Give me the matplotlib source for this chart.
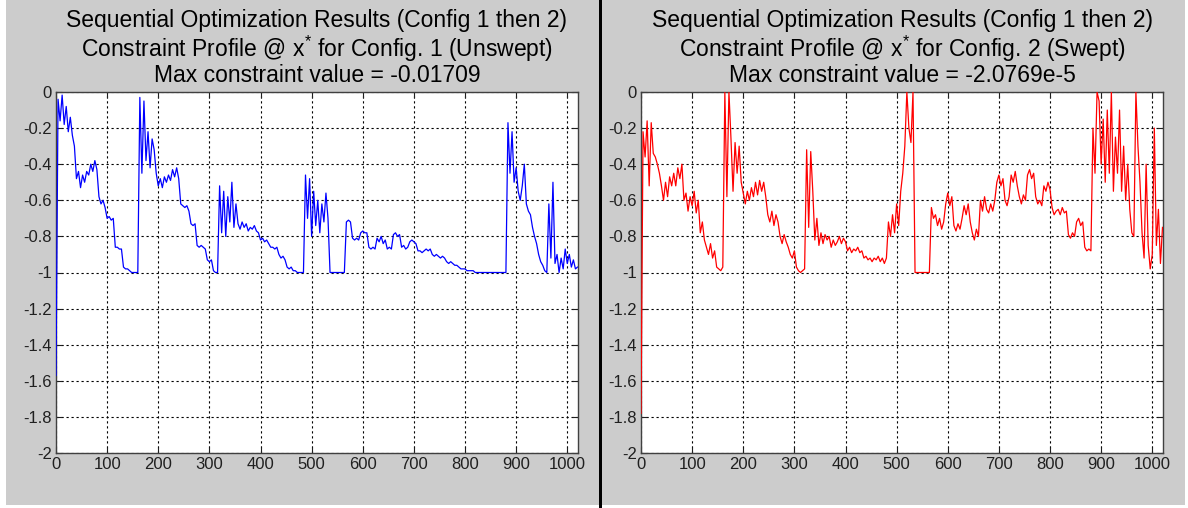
import matplotlib
matplotlib.use("Agg")
import matplotlib.pyplot as plt
import numpy as np
from matplotlib.patches import Rectangle

plt.rcParams["font.family"] = ["Liberation Sans", "DejaVu Sans"]
plt.rcParams["axes.unicode_minus"] = False

# constraint value sampled every SAMPLE_STEP points of the 1024-point profile
SAMPLE_STEP = 4
N_POINTS = 1024

unswept_profile = [
    -1.57, -0.04, -0.16, -0.01709, -0.18, -0.08, -0.22, -0.14, -0.24, -0.30, -0.48, -0.44, -0.53, -0.46, -0.50, -0.44,
    -0.46, -0.40, -0.44, -0.38, -0.43, -0.58, -0.62, -0.60, -0.64, -0.70, -0.69, -0.71, -0.70, -0.86, -0.86, -0.87,
    -0.87, -0.97, -0.98, -0.98, -0.99, -1.00, -1.00, -1.00, -1.00, -0.03, -0.45, -0.05, -0.38, -0.22, -0.42, -0.26,
    -0.32, -0.45, -0.52, -0.48, -0.53, -0.47, -0.50, -0.46, -0.49, -0.43, -0.47, -0.42, -0.48, -0.62, -0.63, -0.64,
    -0.63, -0.66, -0.73, -0.74, -0.73, -0.85, -0.86, -0.85, -0.86, -0.87, -0.93, -0.94, -0.93, -0.99, -1.00, -1.00,
    -0.52, -0.78, -0.55, -0.80, -0.58, -0.72, -0.50, -0.75, -0.62, -0.73, -0.76, -0.72, -0.75, -0.73, -0.77, -0.75,
    -0.76, -0.74, -0.77, -0.78, -0.82, -0.81, -0.83, -0.82, -0.84, -0.86, -0.86, -0.87, -0.86, -0.90, -0.92, -0.91,
    -0.93, -0.97, -0.98, -0.97, -0.99, -0.99, -1.00, -1.00, -1.00, -1.00, -0.46, -0.70, -0.48, -0.80, -0.55, -0.74,
    -0.60, -0.78, -0.62, -0.72, -0.56, -0.70, -1.00, -1.00, -1.00, -1.00, -1.00, -1.00, -1.00, -1.00, -0.72, -0.71,
    -0.72, -0.81, -0.82, -0.81, -0.82, -0.78, -0.77, -0.78, -0.78, -0.86, -0.87, -0.86, -0.87, -0.81, -0.83, -0.80,
    -0.84, -0.82, -0.87, -0.86, -0.87, -0.79, -0.78, -0.80, -0.79, -0.86, -0.85, -0.87, -0.86, -0.83, -0.82, -0.83,
    -0.84, -0.88, -0.88, -0.89, -0.88, -0.87, -0.88, -0.87, -0.90, -0.91, -0.90, -0.91, -0.92, -0.91, -0.92, -0.94,
    -0.95, -0.94, -0.95, -0.96, -0.96, -0.97, -0.98, -0.98, -0.98, -0.99, -0.99, -0.99, -0.99, -1.00, -1.00, -1.00,
    -1.00, -1.00, -1.00, -1.00, -1.00, -1.00, -1.00, -1.00, -1.00, -1.00, -1.00, -1.00, -1.00, -0.17, -0.45, -0.22,
    -0.50, -0.42, -0.55, -0.60, -0.52, -0.40, -0.62, -0.66, -0.68, -0.75, -0.80, -0.84, -0.90, -0.94, -0.96, -0.99,
    -1.00, -0.62, -0.92, -0.50, -0.95, -0.90, -1.00, -0.92, -0.98, -0.87, -0.95, -0.90, -0.97, -0.93, -0.98, -0.97,
]

swept_profile = [
    -1.78, -0.22, -0.36, -0.16, -0.52, -0.17, -0.34, -0.36, -0.40, -0.45, -0.52, -0.60, -0.50, -0.58, -0.47, -0.52,
    -0.45, -0.52, -0.42, -0.48, -0.40, -0.60, -0.56, -0.66, -0.58, -0.63, -0.55, -0.67, -0.60, -0.78, -0.72, -0.82,
    -0.86, -0.90, -0.84, -0.92, -0.88, -0.97, -0.98, -0.99, -0.97, -2.0769e-5, -0.58, -2.0769e-5, -0.26, -0.55, -0.28, -0.45,
    -0.30, -0.50, -0.56, -0.62, -0.55, -0.60, -0.53, -0.58, -0.50, -0.57, -0.49, -0.55, -0.50, -0.58, -0.68, -0.72,
    -0.66, -0.74, -0.68, -0.72, -0.80, -0.84, -0.79, -0.83, -0.86, -0.90, -0.92, -0.88, -0.97, -0.99, -1.00, -0.99,
    -0.98, -0.32, -0.75, -0.33, -0.55, -0.82, -0.70, -0.85, -0.78, -0.84, -0.79, -0.82, -0.80, -0.86, -0.82, -0.85,
    -0.83, -0.80, -0.84, -0.81, -0.83, -0.88, -0.86, -0.89, -0.87, -0.88, -0.86, -0.89, -0.88, -0.92, -0.91, -0.93,
    -0.92, -0.94, -0.92, -0.93, -0.91, -0.94, -0.92, -0.95, -0.92, -0.72, -0.80, -0.68, -0.78, -0.62, -0.74, -0.55,
    -0.45, -0.30, -2.0769e-5, -0.20, -0.28, -2.0769e-5, -1.00, -1.00, -1.00, -1.00, -1.00, -1.00, -1.00, -1.00, -0.64, -0.70,
    -0.68, -0.74, -0.70, -0.76, -0.72, -0.62, -0.56, -0.63, -0.58, -0.74, -0.77, -0.73, -0.76, -0.70, -0.63, -0.68,
    -0.62, -0.72, -0.78, -0.82, -0.76, -0.80, -0.60, -0.66, -0.58, -0.65, -0.67, -0.62, -0.66, -0.60, -0.50, -0.46,
    -0.52, -0.48, -0.60, -0.63, -0.58, -0.46, -0.50, -0.44, -0.52, -0.58, -0.62, -0.57, -0.60, -0.46, -0.43, -0.48,
    -0.45, -0.58, -0.62, -0.60, -0.63, -0.52, -0.55, -0.50, -0.54, -0.64, -0.68, -0.66, -0.65, -0.68, -0.64, -0.67,
    -0.66, -0.79, -0.81, -0.78, -0.80, -0.72, -0.70, -0.74, -0.72, -0.86, -0.88, -0.87, -0.88, -0.20, -0.45, -2.0769e-5,
    -0.05, -0.40, -0.15, -0.50, -0.10, -0.45, -2.0769e-5, -0.55, -0.25, -0.45, -0.10, -0.55, -0.30, -0.60, -0.40, -0.65,
    -0.78, -0.80, -2.0769e-5, -0.30, -0.50, -0.78, -0.92, -0.40, -0.85, -0.98, -0.90, -0.20, -0.85, -0.65, -0.95, -0.75,
]

panel_titles = [
    "Sequential Optimization Results (Config 1 then 2)\n"
    "Constraint Profile @ $\\mathregular{x^{*}}$ for Config. 1 (Unswept)\n"
    "Max constraint value = -0.01709",
    "Sequential Optimization Results (Config 1 then 2)\n"
    "Constraint Profile @ $\\mathregular{x^{*}}$ for Config. 2 (Swept)\n"
    "Max constraint value = -2.0769e-5",
]
line_colors = ["#0000ff", "#ff0000"]

x_ticks = np.arange(0, 1001, 100)
y_ticks = np.round(np.arange(-2.0, 0.01, 0.2), 1)
y_labels = ["0" if v == 0 else f"{v:g}" for v in y_ticks]

W, H = 1188, 508
fig = plt.figure(figsize=(W / 100, H / 100), dpi=100, facecolor="white")

# grey panels and the black divider between them
fig.patches.append(Rectangle((6 / W, 3 / H), 593 / W, 505 / H, transform=fig.transFigure,
                             facecolor="#cccccc", edgecolor="none", zorder=-5))
fig.patches.append(Rectangle((602 / W, 3 / H), 583 / W, 505 / H, transform=fig.transFigure,
                             facecolor="#cccccc", edgecolor="none", zorder=-5))
fig.patches.append(Rectangle((598.5 / W, 0), 3.5 / W, 1, transform=fig.transFigure,
                             facecolor="black", edgecolor="none", zorder=-4))

axes_boxes = [
    [56 / W, 55 / H, 522 / W, 361 / H],
    [641 / W, 55 / H, 522 / W, 361 / H],
]

x = np.arange(0, N_POINTS, SAMPLE_STEP)
for box, profile, color, title in zip(axes_boxes, [unswept_profile, swept_profile], line_colors, panel_titles):
    ax = fig.add_axes(box)
    ax.set_facecolor("white")
    ax.plot(x, profile, color=color, linewidth=0.9, zorder=3)
    ax.set_xlim(0, 1021)
    ax.set_ylim(-2, 0)
    ax.set_xticks(x_ticks)
    ax.set_yticks(y_ticks)
    ax.set_yticklabels(y_labels)
    ax.tick_params(direction="in", top=True, right=True, length=4, width=0.8,
                   labelsize=12, pad=3, colors="#202020")
    ax.grid(True, color="black", linestyle=(0, (2, 2.5)), linewidth=0.8)
    for spine in ax.spines.values():
        spine.set_color("#404040")
        spine.set_linewidth(1.0)
    ax.set_title(title, fontsize=16.5, linespacing=1.04, pad=7)

fig.savefig("out.png", dpi=100, facecolor=fig.get_facecolor())
